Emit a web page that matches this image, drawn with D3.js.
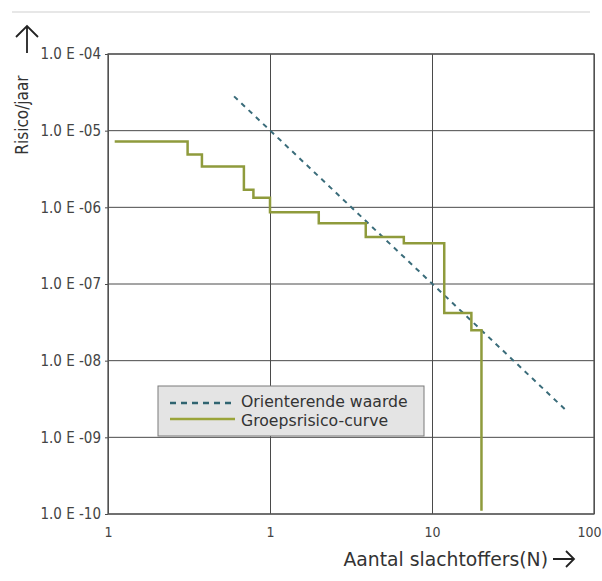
<!DOCTYPE html>
<html>
<head>
<meta charset="utf-8">
<script src="https://cdn.jsdelivr.net/npm/d3@7"></script>
<style>
    body { margin: 0; background: #fff; }
    text { font-family: "DejaVu Sans Condensed", "DejaVu Sans", sans-serif; fill: #3a3a3a; }
</style>
</head>
<body>
<div id="chart"></div>
<script>
// N-waarden en risico's
var xTicks = [0.1, 1, 10, 100];
var xTickLabels = ["1", "1", "10", "100"];
var yTicks = [1e-4, 1e-5, 1e-6, 1e-7, 1e-8, 1e-9, 1e-10];
var yTickLabels = ["1.0 E -04", "1.0 E -05", "1.0 E -06", "1.0 E -07", "1.0 E -08", "1.0 E -09", "1.0 E -10"];

var groepN = [0.11, 0.31, 0.38, 0.69, 0.79, 1.0, 2.0, 3.9, 6.7, 11.9, 17.5, 20.2];
var groepRisico = [7.2e-6, 4.9e-6, 3.4e-6, 1.7e-6, 1.33e-6, 8.6e-7, 6.2e-7, 4.1e-7, 3.4e-7, 4.2e-8, 2.5e-8, 1.1e-10];

var orientN = [0.6, 68];
var orientRisico = [2.8e-5, 2.2e-9];

var legendLabels = ["Orienterende waarde", "Groepsrisico-curve"];

(function () {
    var width = 602,
        height = 581;

    var svg = d3.select("#chart")
        .append("svg")
        .attr("width", width)
        .attr("height", height)

    var x = d3.scaleLog().domain([0.1, 100]).range([108, 594])
    var y = d3.scaleLog().domain([1e-10, 1e-4]).range([514, 54])

    // dunne lijn bovenaan
    svg.append("line")
        .attr("x1", 12).attr("x2", 590)
        .attr("y1", 12).attr("y2", 12)
        .style("stroke", "#cfcfcf")

    // rasterlijnen
    svg.append("g")
        .attr("transform", "translate(0," + y(1e-10) + ")")
        .call(d3.axisBottom(x).tickValues(xTicks).tickSize(-(y(1e-10) - y(1e-4)))
            .tickFormat(function (d, i) { return xTickLabels[i] }))
        .call(function (g) {
            g.select(".domain").remove()
            g.selectAll("line").style("stroke", "#4a4a4a")
            g.selectAll("text")
                .attr("y", 13)
                .attr("dy", "0.71em")
                .style("font-size", "14px")
                .style("fill", "#444")
                .style("font-family", null)
            g.selectAll(".tick:last-of-type text")
                .attr("text-anchor", "end")
                .attr("x", 7)
        })

    svg.append("g")
        .attr("transform", "translate(" + x(0.1) + ",0)")
        .call(d3.axisLeft(y).tickValues(yTicks).tickSize(3)
            .tickFormat(function (d, i) { return yTickLabels[i] }))
        .call(function (g) {
            g.select(".domain").remove()
            g.selectAll("line").style("stroke", "#4a4a4a")
            g.selectAll("text")
                .attr("x", -7)
                .style("font-size", "15px")
                .style("fill", "#444")
                .style("font-family", null)
        })

    svg.append("g")
        .selectAll("line")
        .data(yTicks)
        .enter().append("line")
        .attr("x1", x(0.1)).attr("x2", x(100))
        .attr("y1", function (d) { return y(d) })
        .attr("y2", function (d) { return y(d) })
        .style("stroke", "#4a4a4a")

    svg.append("rect")
        .attr("x", x(0.1)).attr("y", y(1e-4))
        .attr("width", x(100) - x(0.1))
        .attr("height", y(1e-10) - y(1e-4))
        .style("fill", "none")
        .style("stroke", "#555")
        .style("stroke-width", 1.3)

    // orienterende waarde
    var orientData = orientN.map(function (n, i) { return [n, orientRisico[i]] })
    svg.append("path")
        .datum(orientData)
        .attr("d", d3.line().x(function (d) { return x(d[0]) }).y(function (d) { return y(d[1]) }))
        .style("fill", "none")
        .style("stroke", "#3a6c7a")
        .style("stroke-width", 2)
        .style("stroke-dasharray", "5,5")

    // groepsrisico-curve
    var groepData = groepN.map(function (n, i) { return [n, groepRisico[i]] })
    svg.append("path")
        .datum(groepData)
        .attr("d", d3.line().curve(d3.curveStepAfter)
            .x(function (d) { return x(d[0]) })
            .y(function (d) { return y(d[1]) }))
        .style("fill", "none")
        .style("stroke", "#8f9b3c")
        .style("stroke-width", 2.5)

    // legenda
    var legend = svg.append("g").attr("transform", "translate(158,386)")
    legend.append("rect")
        .attr("width", 266).attr("height", 50)
        .style("fill", "#e4e4e4")
        .style("stroke", "#7a7a7a")
    legend.append("line")
        .attr("x1", 12).attr("x2", 77).attr("y1", 17).attr("y2", 17)
        .style("stroke", "#2f6470").style("stroke-width", 2.5)
        .style("stroke-dasharray", "6,5")
    legend.append("line")
        .attr("x1", 12).attr("x2", 77).attr("y1", 33).attr("y2", 33)
        .style("stroke", "#9aa43a").style("stroke-width", 2.5)
    legend.selectAll(".legend-label")
        .data(legendLabels)
        .enter().append("text")
        .attr("class", "legend-label")
        .attr("x", 83)
        .attr("y", function (d, i) { return 16 + i * 19 })
        .attr("dy", "0.35em")
        .style("font-family", "'DejaVu Sans', sans-serif")
        .style("font-size", "15.7px")
        .style("fill", "#333")
        .text(function (d) { return d })

    // astitels met pijlen
    svg.append("text")
        .attr("transform", "translate(28,115) rotate(-90)")
        .attr("text-anchor", "middle")
        .style("font-size", "17px")
        .style("fill", "#333")
        .text("Risico/jaar")

    svg.append("path")
        .attr("d", "M27,53V26M16,37L27,26L38,37")
        .style("fill", "none").style("stroke", "#222").style("stroke-width", 1.8)

    svg.append("text")
        .attr("x", 548).attr("y", 566)
        .attr("text-anchor", "end")
        .style("font-family", "'DejaVu Sans', sans-serif")
        .style("font-size", "18.8px")
        .style("fill", "#333")
        .text("Aantal slachtoffers(N)")

    svg.append("path")
        .attr("d", "M553,559H574M566,551L574,559L566,567")
        .style("fill", "none").style("stroke", "#222").style("stroke-width", 1.8)
})();
</script>
</body>
</html>
